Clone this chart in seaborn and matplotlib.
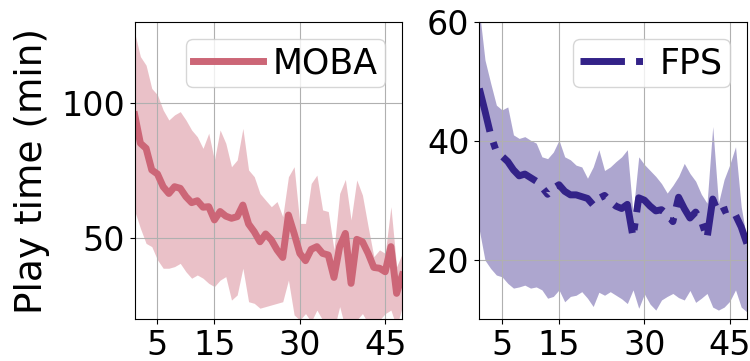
import matplotlib
matplotlib.use("Agg")
import matplotlib.pyplot as plt
import numpy as np
import pandas as pd
import seaborn as sns

days = list(range(1, 49))

moba_mean = [95.6, 85.1, 83.2, 75.2, 73.7, 69.0, 66.5, 69.0, 68.4, 65.3,
             63.1, 63.8, 61.4, 61.6, 56.7, 59.8, 58.1, 57.3, 57.9, 62.2,
             55.2, 52.3, 48.6, 51.5, 49.3, 45.6, 42.8, 58.5, 51.7, 44.3,
             41.6, 45.8, 46.8, 44.3, 43.7, 35.4, 46.8, 51.7, 33.2, 49.5,
             48.6, 44.3, 39.1, 38.8, 37.5, 46.8, 29.5, 36.3]
moba_high = [126, 117.2, 114, 105.4, 103, 97.4, 93.7, 95.6, 96.8, 93.7,
             90, 87.5, 83.2, 88.8, 78.9, 90, 85.1, 76.4, 78.9, 90.6,
             75.2, 72.7, 66.5, 64, 61.6, 63.5, 57.9, 72.7, 76.4, 55.4,
             55.4, 70.2, 73.3, 60.4, 59.8, 45.6, 66.5, 71.7, 56.7, 71.5,
             65.9, 54.2, 43.1, 45.6, 44.3, 61.6, 39.4, 44.3]
moba_low = [60, 53.6, 48, 46.8, 41.9, 38.8, 38.8, 39.4, 40.6, 37.5,
            35.1, 36.3, 35.1, 33.2, 32, 34.4, 35.7, 27, 28.9, 38.8,
            26.4, 25.8, 24, 24.6, 25.2, 25.8, 26.4, 34.4, 21.5, 19.6,
            22, 19, 23.3, 19.6, 17.8, 16, 24.6, 16.5, 14.7, 19.6,
            22, 18.4, 16, 19.6, 22, 23.3, 17, 24.6]

fps_mean = [48.8, 45.0, 41.0, 38.2, 37.4, 36.5, 35.1, 34.1, 34.4, 33.8,
            33.2, 32.2, 31.0, 32.0, 32.6, 31.5, 30.9, 30.9, 30.6, 30.3,
            29.2, 30.3, 30.8, 29.8, 29.0, 28.6, 29.3, 23.8, 30.4, 30.0,
            29.0, 28.2, 28.4, 27.6, 26.4, 30.5, 28.6, 27.0, 28.0, 26.5,
            23.6, 30.2, 27.8, 28.3, 28.6, 27.5, 25.5, 22.7]
fps_high = [62, 53.6, 49.7, 46, 45.2, 45.7, 41, 40.4, 40.7, 40.1,
            39.6, 37.3, 37, 38.1, 40.1, 37.3, 36.8, 35.9, 35.6, 33.7,
            35.6, 38.5, 35.0, 35.6, 36.5, 37.3, 38.5, 27.8, 37.3, 36.0,
            35.0, 34.0, 32.8, 31.2, 32.5, 34.0, 36.2, 34.5, 33.2, 31.0,
            29.5, 42.4, 29.5, 33.5, 36.0, 39.0, 28.9, 23.3]
fps_low = [25, 19.9, 18.5, 17.4, 17.1, 16, 15.2, 15.4, 15.7, 15.2,
           15.4, 14.9, 13.5, 13.8, 14.9, 12.9, 13.8, 14, 14.6, 13.5,
           12.1, 14.5, 14.0, 14.6, 14.0, 13.4, 12.6, 14.9, 11.8, 14.2,
           12.5, 11.5, 13.2, 13.8, 14.3, 13.6, 13.2, 14.8, 12.8, 13.5,
           14.3, 12.0, 11.5, 12.0, 13.0, 14.9, 12.0, 11.2]

xticks = [5, 15, 30, 45]
moba_yticks = [50, 100]
fps_yticks = [20, 40, 60]

plt.rcParams['font.family'] = ['DejaVu Sans']
FS_TICK = 24
FS_LEG = 25

c_moba = "#CC6677"
c_fps = "#332288"

fig = plt.figure(figsize=(7.5, 3.61), dpi=100)
ax1 = fig.add_axes([134.7 / 750, 42 / 361, 267.6 / 750, 297 / 361])
ax2 = fig.add_axes([479.3 / 750, 42 / 361, 267.6 / 750, 297 / 361])

df_m = pd.DataFrame({"day": days, "mean": moba_mean, "low": moba_low, "high": moba_high})
df_f = pd.DataFrame({"day": days, "mean": fps_mean, "low": fps_low, "high": fps_high})

for ax, df, col, ls, name, ylim, yt in [
    (ax1, df_m, c_moba, "-", "MOBA", (20, 130), moba_yticks),
    (ax2, df_f, c_fps, "-.", "FPS", (10, 60), fps_yticks),
]:
    ax.grid(True, color="#b0b0b0", linewidth=0.8)
    ax.fill_between(df["day"], df["low"], df["high"], color=col, alpha=0.4, linewidth=0)
    sns.lineplot(data=df, x="day", y="mean", ax=ax, color=col, linewidth=5,
                 linestyle=ls, label=name)
    ax.set_xlim(1, 48)
    ax.set_ylim(*ylim)
    ax.set_xticks(xticks)
    ax.set_yticks(yt)
    ax.set_xlabel("")
    ax.set_ylabel("")
    ax.tick_params(labelsize=FS_TICK)
    ax.legend(loc="upper right", fontsize=FS_LEG, borderpad=0.2, handletextpad=0.3)

ax1.set_ylabel("Play time (min)", fontsize=27, labelpad=8)

fig.savefig("out.png", dpi=100)
